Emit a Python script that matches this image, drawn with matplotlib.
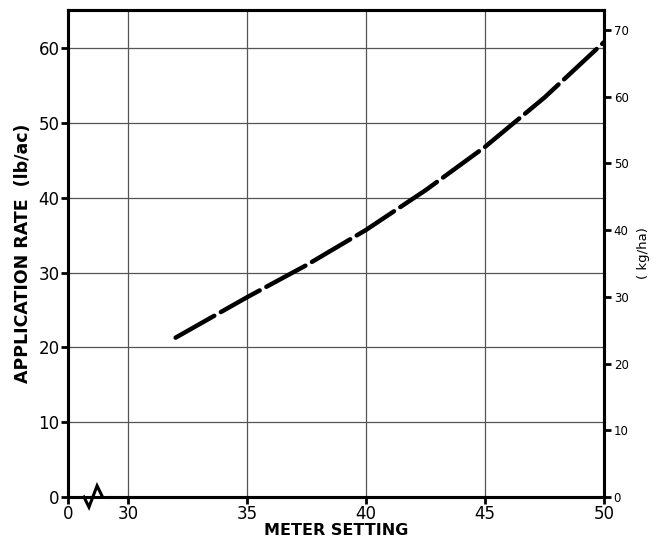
import numpy as np
import matplotlib
matplotlib.use("Agg")
import matplotlib.pyplot as plt

# =========================
# Data
# =========================
meter_setting = [32, 35, 37.5, 40, 42.5, 45, 47.5, 50]
rate_lb_ac = [21.3, 26.7, 31.0, 35.7, 41.0, 46.8, 53.4, 60.8]

x_ticks = [30, 35, 40, 45, 50]
y_ticks = [0, 10, 20, 30, 40, 50, 60]
kg_ticks = [0, 10, 20, 30, 40, 50, 60, 70]

LB_TO_KG = 1.12085
X_ZERO = 27.48     # where "0" sits on the broken x axis
Y_TOP = 65.1

plt.rcParams['font.family'] = ['DejaVu Sans']

fig = plt.figure(figsize=(6.56, 5.40), dpi=100)
ax = fig.add_axes([0.1037, 0.0796, 0.8170, 0.9019])

ax.plot(meter_setting, rate_lb_ac, color="black", lw=3.2,
        dashes=(10, 1.7), dash_capstyle="round")

ax.set_xlim(X_ZERO, 50)
ax.set_ylim(0, Y_TOP)

ax.set_xticks([X_ZERO] + x_ticks)
ax.set_xticklabels(["0"] + [str(t) for t in x_ticks])
ax.set_yticks(y_ticks)

# grid
for xv in x_ticks[:-1]:
    ax.axvline(xv, color="#555555", lw=0.9, zorder=0)
for yv in y_ticks[1:]:
    ax.axhline(yv, color="#555555", lw=0.9, zorder=0)

for s in ax.spines.values():
    s.set_linewidth(2.2)

ax.tick_params(direction="out", length=5, width=2, labelsize=12, pad=1)

# right axis in kg/ha
ax2 = ax.twinx()
ax2.set_ylim(0, Y_TOP * LB_TO_KG)
ax2.set_yticks(kg_ticks)
ax2.tick_params(direction="out", length=5, width=2, labelsize=8.5, pad=2)
for s in ax2.spines.values():
    s.set_linewidth(2.2)
ax2.set_ylabel("( kg/ha)", fontsize=9.5, labelpad=6)

ax.set_xlabel("METER SETTING", fontsize=11.5, fontweight="bold", labelpad=0)
ax.set_ylabel("APPLICATION RATE  (lb/ac)", fontsize=12.5, fontweight="bold", labelpad=5)

# axis break mark
ax.plot([28.15, 28.95], [0, 0], color="white", lw=3.5, clip_on=False, zorder=5)
ax.plot([28.15, 28.36, 28.70, 28.93], [0, -1.35, 1.5, 0], color="black",
        lw=2.2, clip_on=False, zorder=6, solid_joinstyle="miter")

fig.savefig("out.png", dpi=100)
